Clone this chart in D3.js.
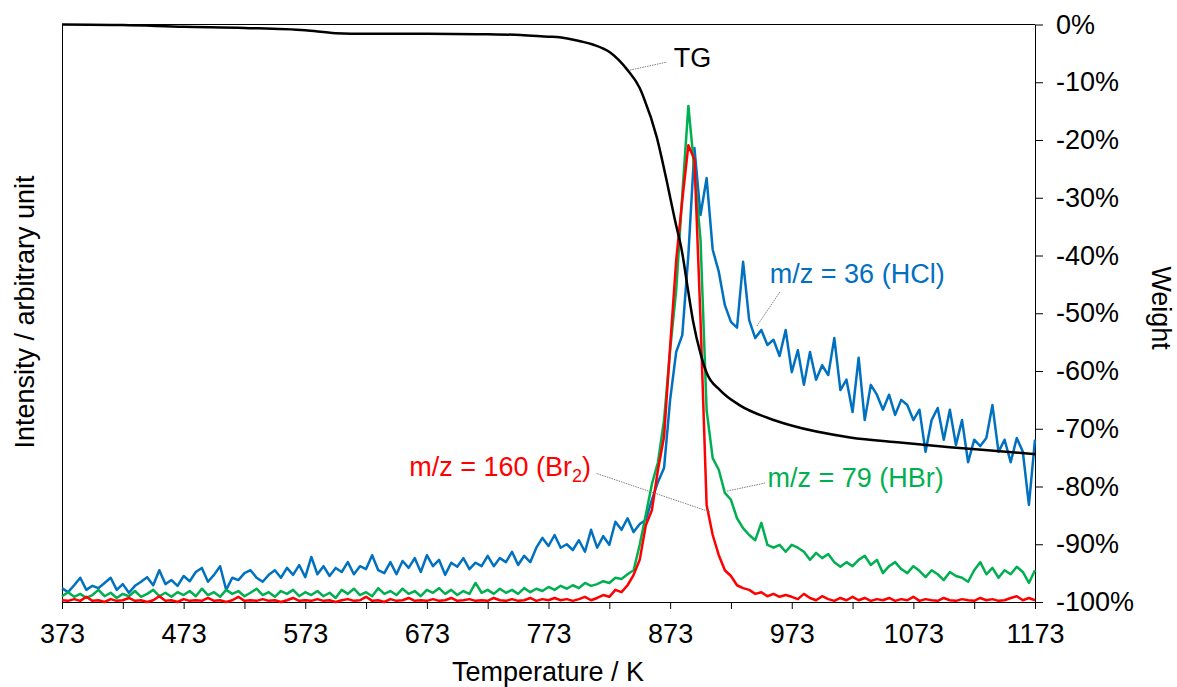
<!DOCTYPE html>
<html>
<head>
<meta charset="utf-8">
<script src="https://cdn.jsdelivr.net/npm/d3@7"></script>
<style>
  html, body { margin: 0; padding: 0; background: #fff; }
  svg { display: block; font-family: "Liberation Sans", Arial, sans-serif; }
  .axis text { font-size: 27px; fill: #000; }
  .axis path, .axis line { stroke: #000; }
</style>
</head>
<body>
<svg id="chart" width="1177" height="687"></svg>
<script>
// temperature grid of the MS signals (K)
const temps = d3.range(373, 1174, 5);

// m/z = 36 (HCl), arbitrary unit
const hcl = [2.4,1.7,2.9,4.2,2.1,2.8,2.4,3.3,4.2,2.1, 3.1,1.6,2.8,3.5,4.3,2.9,5.5,3.1,3.8,2.8,
  4.5,3.6,5.2,5.9,3.5,4.7,6.2,2.1,4.2,3.8, 5.0,5.5,4.2,3.5,4.7,5.5,4.2,5.9,4.7,6.4,
  4.3,7.8,4.8,6.2,4.5,5.9,5.2,6.9,4.8,6.2, 5.7,8.1,5.5,5.0,6.9,4.8,7.1,5.9,7.6,5.2,
  8.1,6.2,7.3,4.7,6.8,6.1,7.6,5.7,6.8,6.2, 8.0,6.2,7.6,6.9,8.7,6.4,8.0,6.9,9.4,11.1,
  9.7,11.6,9.4,10.0,9.0,10.7,8.7,12.5,9.4,11.4, 9.9,13.9,12.5,14.5,12.1,13.5,14.2,17.7,20.8,23.2,
  35.0,43.3,46.2,60.1,78.6,67.0,73.4,61.0,57.2,51.4, 48.5,47.5,58.9,48.8,45.7,47.1,44.5,45.4,42.6,47.1,
  39.8,43.6,37.6,43.3,38.5,41.0,39.3,45.7,36.7,38.5, 32.9,42.3,31.5,37.6,35.9,33.3,35.9,32.4,35.0,34.1,
  31.5,33.3,26.0,31.5,33.6,28.1,33.3,27.2,31.5,24.2, 28.1,27.0,28.4,34.1,26.0,28.1,24.2,28.4,26.0,16.8,
  28.1];

// m/z = 79 (HBr)
const hbr = [1.0,1.7,0.9,1.4,0.7,1.2,2.1,1.0,1.6,0.7, 1.4,1.0,1.9,0.9,1.4,2.1,1.0,1.6,0.9,1.7,
  1.2,1.9,1.0,2.3,1.2,1.7,0.9,2.1,1.4,1.9, 1.0,1.6,2.3,1.2,1.7,0.9,1.9,1.4,2.1,1.0,
  1.7,1.2,1.9,1.0,1.6,0.7,2.1,1.4,2.3,1.2, 1.7,1.0,2.4,1.4,1.9,1.2,2.3,1.4,1.9,1.0,
  2.1,1.6,2.4,1.4,2.1,1.2,1.9,1.4,3.3,1.6, 2.1,1.4,2.3,1.6,2.1,1.4,2.4,1.7,2.3,1.9,
  2.6,2.1,2.8,2.3,2.9,2.4,3.3,2.8,3.1,3.6, 3.3,4.2,4.0,4.8,5.5,9.9,15.1,20.4,24.2,31.5,
  43.6,54.0,70.5,85.9,74.8,62.7,33.2,24.9,22.9,18.9, 17.7,14.5,12.8,11.6,10.7,13.7,9.9,9.4,9.9,8.7,
  9.9,9.4,8.7,7.3,8.5,7.6,8.3,6.9,6.1,6.9, 6.2,7.3,8.0,6.4,7.3,5.0,6.2,6.9,5.7,5.0,
  6.2,5.4,4.3,5.5,4.8,3.8,5.2,4.5,4.2,3.5, 5.5,6.9,4.8,5.9,4.2,5.5,4.8,6.1,5.2,3.3,
  5.5];

// m/z = 160 (Br2)
const br2 = [0.3,0.2,0.5,0.2,0.9,0.2,0.3,0.0,0.5,0.2, 0.3,0.7,0.2,0.3,0.0,0.3,1.0,0.2,0.3,0.0,
  0.5,0.2,0.3,0.2,0.7,0.2,0.3,0.0,0.3,0.9, 0.2,0.3,0.2,0.5,0.2,0.3,0.0,0.3,0.7,0.2,
  0.3,0.2,0.5,0.2,0.3,0.0,0.3,0.5,0.2,0.3, 0.9,0.2,0.3,0.0,0.5,0.2,0.3,0.7,0.2,0.3,
  0.2,0.5,0.2,0.3,0.7,0.2,0.3,0.5,0.2,0.3, 0.2,0.7,0.3,0.2,0.5,0.2,0.3,0.7,0.2,0.5,
  0.3,0.7,0.3,0.5,0.2,0.5,0.9,0.3,0.7,1.2, 0.9,2.1,1.7,2.9,4.7,7.3,13.3,15.9,22.9,28.6,
  44.2,59.2,69.6,79.1,76.6,48.8,16.8,11.6,8.1,5.5, 4.5,2.9,2.4,2.1,1.4,1.7,1.0,1.4,0.9,1.2,
  0.9,0.5,1.4,0.7,0.3,1.0,0.5,0.2,0.7,0.3, 0.9,0.3,0.7,0.2,0.5,0.3,0.7,0.2,0.5,0.3,
  0.9,0.2,0.5,0.3,0.2,0.7,0.3,0.2,0.5,0.3, 0.2,0.7,0.3,0.5,0.2,0.3,0.7,1.0,0.3,0.7,
  0.3];

// TG curve (weight change, %)
const tgTemp = [373,423,473,523,573,598,623,673,723,750,773,782,799,810,824,838,848,851,862,870,
  877,883,887,892,898,903,914,930,953,972,1021,1062,1103,1144,1173];
const tgWeight = [0,-0.1,-0.4,-0.6,-1.0,-1.5,-1.6,-1.6,-1.7,-1.8,-2.1,-2.2,-2.9,-3.5,-4.9,-7.9,-11.0,-12.5,-19.5,-26.9,
  -33.9,-39.6,-45.0,-51.5,-57.0,-60.3,-63.3,-65.9,-68.1,-69.4,-71.5,-72.4,-73.2,-73.9,-74.4];

// axis ticks
const xTicks = d3.range(373, 1174, 50);
const xLabels = d3.range(373, 1174, 100);
const wTicks = [-100,-90,-80,-70,-60,-50,-40,-30,-20,-10,0];

const svg = d3.select("#chart");
const L = 62, R = 1035, T = 24.5, B = 602;

const x = d3.scaleLinear().domain([373, 1173]).range([L, R]);
const yI = d3.scaleLinear().domain([0, 100]).range([B, T]);
const yW = d3.scaleLinear().domain([-100, 0]).range([B, T]);

// frame (left + top)
svg.append("line").attr("x1", L + 0.5).attr("x2", L + 0.5).attr("y1", T).attr("y2", B)
  .attr("stroke", "#000");
svg.append("line").attr("x1", L).attr("x2", R).attr("y1", 24.5).attr("y2", 24.5)
  .attr("stroke", "#000");

// x axis
svg.append("g").attr("class", "axis")
  .attr("transform", `translate(0,${B})`)
  .call(d3.axisBottom(x).tickValues(xTicks).tickSize(7).tickSizeOuter(0).tickPadding(15)
    .tickFormat(d => xLabels.includes(d) ? d : ""));

// right weight axis
svg.append("g").attr("class", "axis")
  .attr("transform", `translate(${R},0)`)
  .call(d3.axisRight(yW).tickValues(wTicks).tickSize(8).tickSizeOuter(0).tickPadding(13)
    .tickFormat(d => d + "%"));

// MS signals
const msLine = d3.line().x((d, i) => x(temps[i])).y(d => yI(d));
const series = [
  { v: hcl, color: "#0070C0" },
  { v: hbr, color: "#00B050" },
  { v: br2, color: "#FF0000" }
];
series.forEach(s => {
  svg.append("path").datum(s.v)
    .attr("fill", "none").attr("stroke", s.color).attr("stroke-width", 2.5)
    .attr("stroke-linejoin", "round")
    .attr("d", msLine);
});

// TG
const tgLine = d3.line().curve(d3.curveMonotoneX)
  .x((d, i) => x(tgTemp[i])).y(d => yW(d));
svg.append("path").datum(tgWeight)
  .attr("fill", "none").attr("stroke", "#000").attr("stroke-width", 2.5)
  .attr("d", tgLine);

// annotations: leader from curve point (t0,w0) to (t1,w1), label at (tx,tw)
const notes = [
  { text: "TG", color: "#000", t0: 840, w0: -7.9, t1: 870.4, w1: -6.5, tx: 876, tw: -7.4, anchor: "start" },
  { text: "m/z = 36 (HCl)", color: "#0070C0", t0: 944.4, w0: -52.2, t1: 963.3, w1: -46.3, tx: 955, tw: -44.8, anchor: "start" },
  { text: "m/z = 79 (HBr)", color: "#00B050", t0: 919.8, w0: -80.8, t1: 951, w1: -79.4, tx: 953, tw: -80.1, anchor: "start" },
  { text: "m/z = 160 (Br", sub: "2", color: "#FF0000", t0: 905.8, w0: -84.4, t1: 812, w1: -77.7, tx: 808, tw: -78.2, anchor: "end" }
];
notes.forEach(n => {
  svg.append("line")
    .attr("x1", x(n.t0)).attr("y1", yW(n.w0)).attr("x2", x(n.t1)).attr("y2", yW(n.w1))
    .attr("stroke", "#7f7f7f").attr("stroke-width", 1).attr("stroke-dasharray", "1.5,1");
  const t = svg.append("text")
    .attr("x", x(n.tx)).attr("y", yW(n.tw))
    .attr("fill", n.color).attr("font-size", 27).attr("text-anchor", n.anchor);
  if (n.sub) {
    t.append("tspan").text(n.text);
    t.append("tspan").text(n.sub).attr("font-size", 18).attr("dy", 6);
    t.append("tspan").text(")").attr("dy", -6);
  } else {
    t.text(n.text);
  }
});

// axis titles
svg.append("text").attr("x", 548).attr("y", 681).attr("text-anchor", "middle")
  .attr("font-size", 27).text("Temperature / K");
svg.append("text").attr("transform", "translate(34,312) rotate(-90)")
  .attr("text-anchor", "middle").attr("font-size", 27).text("Intensity / arbitrary unit");
svg.append("text").attr("transform", "translate(1152,308) rotate(90)")
  .attr("text-anchor", "middle").attr("font-size", 27).text("Weight");
</script>
</body>
</html>
